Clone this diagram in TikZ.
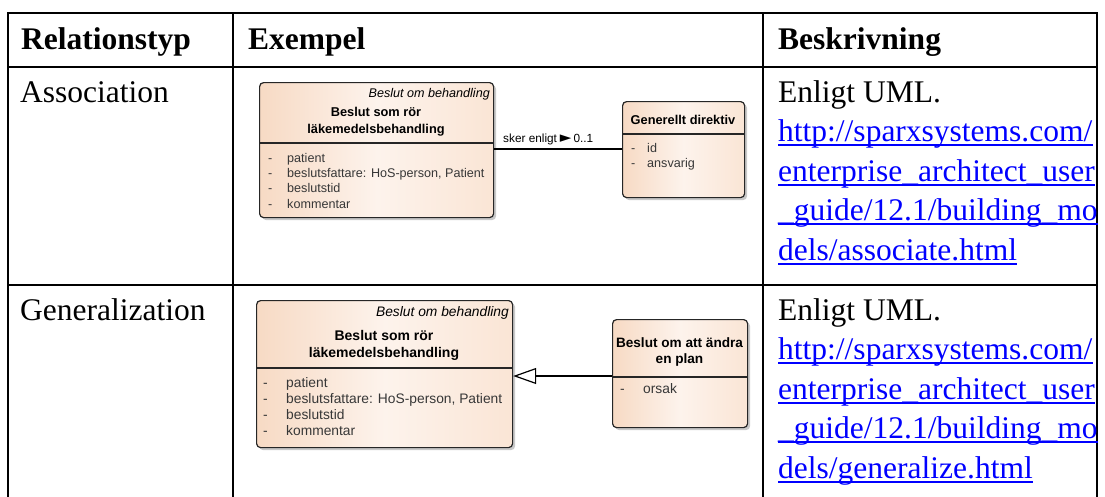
\documentclass[tikz,border=0pt]{standalone}
\usepackage{fontspec}
\setmainfont{Liberation Serif}
\newfontfamily\umlfont{Liberation Sans}
\newfontfamily\symfont{DejaVu Sans}
\usetikzlibrary{arrows.meta,shadows}

\definecolor{peachL}{RGB}{247,218,196}
\definecolor{peachM}{RGB}{253,243,236}
\definecolor{peachR}{RGB}{250,229,213}
\definecolor{attrgray}{RGB}{55,55,55}
\definecolor{linkblue}{RGB}{0,0,255}

\tikzset{
  grid/.style={line width=2.5pt, line cap=rect},
  cell/.style={anchor=base west, inner sep=0pt, font=\fontsize{31.5}{39.5}\selectfont},
  head/.style={cell, font=\fontsize{31.5}{39.5}\selectfont\bfseries},
  link/.style={cell, text=linkblue},
  ul/.style={draw=linkblue, line width=2pt},
  umlbox/.style={draw=black!85, line width=1.2pt, rounded corners=4pt,
    left color=peachL, right color=peachR, middle color=peachM,
    drop shadow={shadow xshift=2.5pt, shadow yshift=-2.5pt, opacity=0.3, fill=black!70},
    anchor=north west, inner sep=0pt},
  divider/.style={draw=black!85, line width=1.2pt},
  stereo/.style={anchor=base east, inner sep=0pt, font=\umlfont\itshape\fontsize{#1}{#1}\selectfont},
  utitle/.style={anchor=base, inner sep=0pt, font=\umlfont\bfseries\fontsize{#1}{#1}\selectfont},
  udash/.style={anchor=base west, inner sep=0pt, text=attrgray, font=\umlfont\fontsize{#1}{#1}\selectfont},
  uattr/.style={anchor=base west, inner sep=0pt, text=attrgray, font=\umlfont\fontsize{#1}{#1}\selectfont},
  assoc/.style={draw=black, line width=1.2pt},
  genline/.style={draw=black, line width=1.2pt, -{Triangle[open, length=23pt, width=16pt, line width=1.2pt]}},
}

\begin{document}
\begin{tikzpicture}[x=1pt, y=-1pt]
\useasboundingbox (0,0) rectangle (1105,496);

% table rules
\draw[grid] (8,13) -- (1097,13);
\draw[grid] (8,67) -- (1097,67);
\draw[grid] (8,285) -- (1097,285);
\draw[grid] (8,13) -- (8,496);
\draw[grid] (233,13) -- (233,496);
\draw[grid] (763,13) -- (763,496);
\draw[grid] (1097,13) -- (1097,496);

% header row
\node[head] (h1) at (21,49) {Relationstyp};
\node[head] (h2) at (248,49) {Exempel};
\node[head] (h3) at (778,49) {Beskrivning};

% first column
\node[cell] (r1) at (20,102) {Association};
\node[cell] (r2) at (20,320) {Generalization};

% description column, association
\node[cell] (d1) at (778,102) {Enligt UML.};
\node[link] (a1) at (778,141.5) {http://sparxsystems.com/};
\node[link] (a2) at (778,181) {enterprise\_architect\_user};
\node[link] (a3) at (778,220.5) {\_guide/12.1/building\_mo};
\node[link] (a4) at (778,260) {dels/associate.html};

% description column, generalization
\node[cell] (d2) at (778,320) {Enligt UML.};
\node[link] (g1) at (778,359.5) {http://sparxsystems.com/};
\node[link] (g2) at (778,399) {enterprise\_architect\_user};
\node[link] (g3) at (778,438.5) {\_guide/12.1/building\_mo};
\node[link] (g4) at (778,478) {dels/generalize.html};

\foreach \n in {a1,a2,a3,a4,g1,g2,g3,g4}
  \draw[ul] ([yshift=-3.5pt]\n.base west) -- ([yshift=-3.5pt]\n.base east);

% ---- association example ----
\node[umlbox, minimum width=234pt, minimum height=135pt] (b1) at (259,82) {};
\draw[divider] (b1.west |- 0,143) -- (b1.east |- 0,143);
\node[stereo=12.6] (b1s) at (490,97) {Beslut om behandling};
\node[utitle=12.8] (b1t1) at (376,116) {Beslut som rör};
\node[utitle=12.8] (b1t2) at (376,133) {läkemedelsbehandling};
\foreach \i/\y/\t in {1/162/patient, 2/177.3/{beslutsfattare: HoS-person, Patient}, 3/192.6/beslutstid, 4/208/kommentar}{
  \node[udash=12.6] (b1d\i) at (268,\y) {-};
  \node[uattr=12.6] (b1a\i) at (287,\y) {\t};
}

\node[umlbox, minimum width=122pt, minimum height=96pt] (b2) at (622,101) {};
\draw[divider] (b2.west |- 0,134) -- (b2.east |- 0,134);
\node[utitle=12.8] (b2t) at (683,124) {Generellt direktiv};
\node[udash=12.6] (b2d1) at (631,152) {-};
\node[uattr=12.6] (b2a1) at (647,152) {id};
\node[udash=12.6] (b2d2) at (631,167) {-};
\node[uattr=12.6] (b2a2) at (647,167) {ansvarig};

\coordinate (ay) at (0,149);
\draw[assoc] (b1.east |- ay) -- (b2.west |- ay);
\node[anchor=base west, inner sep=0pt, font=\umlfont\fontsize{11.8}{12}\selectfont] (lab) at (503,142)
  {sker enligt\hspace{3pt}{\symfont\fontsize{15}{15}\selectfont ►}\hspace{2pt}0..1};

% ---- generalization example ----
\node[umlbox, minimum width=256pt, minimum height=147pt] (b3) at (256,300) {};
\draw[divider] (b3.west |- 0,368) -- (b3.east |- 0,368);
\node[stereo=13.8] (b3s) at (509,316) {Beslut om behandling};
\node[utitle=14] (b3t1) at (384,340) {Beslut som rör};
\node[utitle=14] (b3t2) at (384,357) {läkemedelsbehandling};
\foreach \i/\y/\t in {1/387/patient, 2/403/{beslutsfattare: HoS-person, Patient}, 3/419/beslutstid, 4/435/kommentar}{
  \node[udash=13.8] (b3d\i) at (263,\y) {-};
  \node[uattr=13.8] (b3a\i) at (286,\y) {\t};
}

\node[umlbox, minimum width=135pt, minimum height=108pt] (b4) at (612,319) {};
\draw[divider] (b4.west |- 0,377) -- (b4.east |- 0,377);
\node[utitle=13.6] (b4t1) at (679.5,347) {Beslut om att ändra};
\node[utitle=13.6] (b4t2) at (679.5,363) {en plan};
\node[udash=13.8] (b4d1) at (620,393) {-};
\node[uattr=13.8] (b4a1) at (643,393) {orsak};

\coordinate (gy) at (0,376);
\draw[genline] (b4.west |- gy) -- (b3.east |- gy);
\end{tikzpicture}
\end{document}
